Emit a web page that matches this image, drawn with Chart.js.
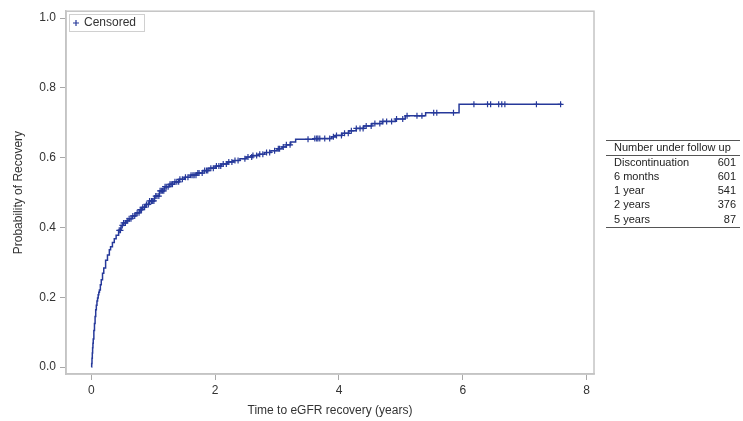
<!DOCTYPE html>
<html>
<head>
<meta charset="utf-8">
<script src="https://cdn.jsdelivr.net/npm/chart.js@4.4.0/dist/chart.umd.min.js"></script>
<style>
  html, body { margin: 0; padding: 0; background: #fff; }
  #kmChart { display: block; }
</style>
</head>
<body>
<canvas id="kmChart" width="743" height="421"></canvas>
<script>
// Kaplan-Meier steps (time in years, cumulative probability)
const kmTimes = [0, 0.005, 0.01, 0.015, 0.02, 0.025, 0.03, 0.04, 0.05, 0.06, 0.07, 0.08, 0.09, 0.10,
    0.11, 0.12, 0.13, 0.145, 0.16, 0.18, 0.20, 0.23, 0.26, 0.29, 0.31, 0.34, 0.37, 0.40, 0.44, 0.48,
    0.52, 0.56, 0.61, 0.66, 0.72, 0.78, 0.83, 0.88, 0.94, 1.02, 1.10, 1.18, 1.26,
    1.34, 1.42, 1.50, 1.60, 1.70, 1.80, 1.90, 2.00, 2.10, 2.20, 2.30, 2.40, 2.50, 2.60, 2.70,
    2.80, 2.90, 3.00, 3.08, 3.15, 3.22, 3.30, 3.60, 3.88, 3.95, 4.05, 4.16, 4.28, 4.40, 4.53,
    4.70, 4.91, 5.07, 5.40, 5.94, 7.60];
const kmProb = [0, 0.01, 0.025, 0.04, 0.055, 0.068, 0.08, 0.105, 0.125, 0.145, 0.164, 0.177, 0.189, 0.198,
    0.207, 0.214, 0.221, 0.236, 0.250, 0.269, 0.284, 0.306, 0.321, 0.336, 0.345, 0.357, 0.368, 0.378, 0.392, 0.406,
    0.413, 0.419, 0.425, 0.433, 0.442, 0.451, 0.458, 0.466, 0.476, 0.490, 0.505, 0.517, 0.524,
    0.531, 0.538, 0.544, 0.550, 0.556, 0.563, 0.570, 0.576, 0.582, 0.588, 0.592, 0.597, 0.602, 0.606, 0.610,
    0.615, 0.620, 0.626, 0.631, 0.637, 0.645, 0.653, 0.655, 0.660, 0.664, 0.670, 0.677, 0.684, 0.691, 0.698,
    0.704, 0.711, 0.720, 0.729, 0.753, 0.753];

// censored observations (years)
const censorTimes = [0.45, 0.47, 0.50, 0.52, 0.55, 0.58, 0.61, 0.64, 0.67, 0.70, 0.74, 0.77, 0.79, 0.81,
    0.83, 0.86, 0.89, 0.92, 0.94, 0.97, 0.99, 1.01, 1.04, 1.06, 1.09, 1.11,
    1.13, 1.15, 1.17, 1.19, 1.21, 1.24, 1.27, 1.29, 1.31, 1.35, 1.38, 1.41, 1.43, 1.47, 1.52, 1.56, 1.61,
    1.64, 1.66, 1.69, 1.72, 1.74, 1.79, 1.83, 1.86, 1.88, 1.93, 1.97, 2.02, 2.06, 2.09, 2.13, 2.18, 2.22,
    2.27, 2.32, 2.37, 2.48, 2.53, 2.59, 2.61, 2.67, 2.72, 2.77, 2.83, 2.88, 2.96, 3.02, 3.04, 3.10, 3.15,
    3.21, 3.50, 3.61, 3.64, 3.66, 3.69, 3.77,
    3.85, 3.91, 3.96, 4.04, 4.09, 4.15, 4.20, 4.28, 4.34, 4.39, 4.44, 4.52, 4.58, 4.66, 4.71, 4.77,
    4.85, 4.93, 5.03, 5.10, 5.26, 5.34, 5.53, 5.58, 5.85, 6.18, 6.40, 6.45, 6.58, 6.63, 6.68, 7.19, 7.58];

const xTicks = [0, 2, 4, 6, 8];
const yTicks = [0, 0.2, 0.4, 0.6, 0.8, 1.0];

const tableTitle = "Number under follow up";
const tableLabels = ["Discontinuation", "6 months", "1 year", "2 years", "5 years"];
const tableCounts = [601, 601, 541, 376, 87];

const lineColor = "#26399a";
const textColor = "#333333";
const frameColor = "#c4c4c4";
const fontFamily = "Arial, 'Liberation Sans', sans-serif";

function probAt(t) {
    let p = 0;
    for (let i = 0; i < kmTimes.length; i++) {
        if (kmTimes[i] <= t) p = kmProb[i];
    }
    return p;
}

const curveData = kmTimes.map((t, i) => ({ x: t, y: kmProb[i] }));
const censorData = censorTimes.map((t) => ({ x: t, y: probAt(t) }));

// frame + legend + follow-up table
const extras = {
    id: "extras",
    afterDraw(chart) {
        const c = chart.ctx;
        const a = chart.chartArea;
        c.save();
        c.strokeStyle = frameColor;
        c.lineWidth = 1.5;
        c.strokeRect(a.left, a.top, a.right - a.left, a.bottom - a.top);

        // legend box
        c.lineWidth = 1;
        c.strokeStyle = "#d0d0d0";
        c.strokeRect(69.5, 14.5, 75, 17);
        c.strokeStyle = lineColor;
        c.lineWidth = 1.2;
        c.beginPath();
        c.moveTo(73, 23); c.lineTo(79, 23);
        c.moveTo(76, 20); c.lineTo(76, 26);
        c.stroke();
        c.fillStyle = textColor;
        c.font = "12px " + fontFamily;
        c.textBaseline = "middle";
        c.textAlign = "left";
        c.fillText("Censored", 84, 23);

        // table
        c.strokeStyle = "#555";
        c.lineWidth = 1;
        c.beginPath();
        c.moveTo(606, 140.5); c.lineTo(740, 140.5);
        c.moveTo(606, 155.5); c.lineTo(740, 155.5);
        c.moveTo(606, 227.5); c.lineTo(740, 227.5);
        c.stroke();
        c.fillStyle = "#222";
        c.font = "11px " + fontFamily;
        c.fillText(tableTitle, 614, 148);
        tableLabels.forEach((lab, i) => {
            const y = 162.5 + i * 14.3;
            c.textAlign = "left";
            c.fillText(lab, 614, y);
            c.textAlign = "right";
            c.fillText(String(tableCounts[i]), 736, y);
        });
        c.restore();
    },
};

const config = {
    type: "line",
    data: {
        datasets: [
            {
                label: "KM",
                data: curveData,
                borderColor: lineColor,
                borderWidth: 1.5,
                stepped: true,
                pointRadius: 0,
                fill: false,
            },
            {
                label: "Censored",
                data: censorData,
                showLine: false,
                pointStyle: "cross",
                pointRadius: 3,
                borderColor: lineColor,
                borderWidth: 1.2,
            },
        ],
    },
    options: {
        responsive: false,
        animation: false,
        layout: { padding: { top: 11, right: 149, bottom: 0, left: 0 } },
        plugins: {
            legend: { display: false },
            tooltip: { enabled: false },
        },
        scales: {
            x: {
                type: "linear",
                min: -0.41,
                max: 8.12,
                afterBuildTicks: (s) => { s.ticks = xTicks.map((v) => ({ value: v })); },
                afterFit: (s) => { s.height = 47; },
                grid: { drawOnChartArea: false, drawTicks: true, tickLength: 6, color: "#a8a8a8" },
                border: { color: frameColor, width: 1.5 },
                ticks: { color: textColor, font: { family: fontFamily, size: 12 }, padding: 3, maxRotation: 0 },
                title: {
                    display: true,
                    text: "Time to eGFR recovery (years)",
                    color: textColor,
                    font: { family: fontFamily, size: 12 },
                    padding: { top: 0, bottom: 3 },
                },
            },
            y: {
                min: -0.02,
                max: 1.02,
                afterBuildTicks: (s) => { s.ticks = yTicks.map((v) => ({ value: v })); },
                afterFit: (s) => { s.width = 66; },
                grid: { drawOnChartArea: false, drawTicks: true, tickLength: 6, color: "#a8a8a8" },
                border: { color: frameColor, width: 1.5 },
                ticks: {
                    color: textColor,
                    font: { family: fontFamily, size: 12 },
                    padding: 4,
                    callback: (v) => Number(v).toFixed(1),
                },
                title: {
                    display: true,
                    text: "Probability of Recovery",
                    color: textColor,
                    font: { family: fontFamily, size: 12 },
                    padding: { top: 11, bottom: 0 },
                },
            },
        },
    },
    plugins: [extras],
};

new Chart(document.getElementById("kmChart").getContext("2d"), config);
</script>
</body>
</html>
